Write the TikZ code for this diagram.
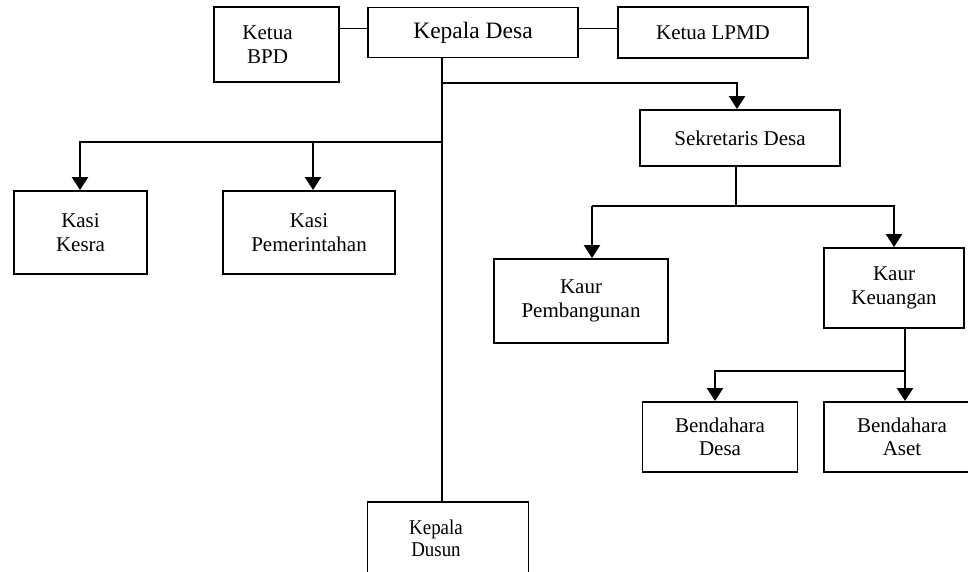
\documentclass[tikz,border=0pt]{standalone}
\usepackage{fontspec}
\usepackage{graphicx}
\setmainfont{Liberation Serif}
\usetikzlibrary{arrows.meta}
\newcommand{\narrow}[1]{\scalebox{0.9}[1]{#1}}
\tikzset{
  unit/.style={draw, line width=1.9pt, inner sep=0pt, align=center,
    font=\fontsize{21}{23.5}\selectfont},
  conn/.style={line width=2.3pt, line join=miter},
  link/.style={line width=1.6pt},
  arr/.style={-{Triangle[length=13pt,width=16pt]}}
}
\begin{document}
\begin{tikzpicture}[x=1pt,y=-1pt]
\useasboundingbox (0,0) rectangle (968,571);

% top row
\node[unit, minimum width=125pt, minimum height=75pt] (bpd) at (276.5,44.5)
  {Ketua\kern18pt\\BPD\kern18pt};
\node[unit, minimum width=210pt, minimum height=50pt,
      font=\fontsize{23.5}{26}\selectfont] (kades) at (473,32.5) {Kepala Desa};
\node[unit, minimum width=190pt, minimum height=51pt] (lpmd) at (713,32.5) {Ketua LPMD};

% secretary and sections
\node[unit, minimum width=200pt, minimum height=56pt] (sek) at (740,138) {Sekretaris Desa};
\node[unit, minimum width=133pt, minimum height=83pt] (kesra) at (80.5,232.5) {Kasi\\Kesra};
\node[unit, minimum width=172pt, minimum height=83pt] (kpem) at (309,232.5) {Kasi\\Pemerintahan};
\node[unit, minimum width=174pt, minimum height=84pt] (kpemb) at (581,301) {Kaur\\Pembangunan};
\node[unit, minimum width=140pt, minimum height=80pt] (kkeu) at (894,288) {Kaur\\Keuangan};
\node[unit, minimum width=155pt, minimum height=70pt] (bdesa) at (720,437) {Bendahara\\Desa};
\node[unit, minimum width=156pt, minimum height=70pt] (baset) at (902,437) {Bendahara\\Aset};
\node[unit, minimum width=161pt, minimum height=73pt,
      font=\fontsize{21}{21.7}\selectfont] (kdusun) at (448,538.5)
  {\narrow{Kepala}\kern24pt\\\narrow{Dusun}\kern24pt};

% junction levels
\coordinate (tr) at ([xshift=-31pt]kades.south);
\coordinate (yS) at (0,83);
\coordinate (yK) at (0,142);
\coordinate (yP) at (0,205.7);
\coordinate (yB) at (0,371);

% side links of the head
\draw[link] ([yshift=4pt]kades.west) -- ([yshift=4pt]kades.west -| bpd.east);
\draw[link] ([yshift=4pt]kades.east) -- ([yshift=4pt]kades.east -| lpmd.west);

% main trunk down to Kepala Dusun
\draw[conn] (tr) -- (tr |- kdusun.north);

% branch to Sekretaris Desa
\draw[conn,arr] (tr |- yS) -| ([xshift=-3pt]sek.north);

% branch to the Kasi
\draw[conn,arr] (tr |- yK) -| ([xshift=-0.5pt]kesra.north);
\draw[conn,arr] ([xshift=4pt]kpem.north |- yK) -- ([xshift=4pt]kpem.north);

% Sekretaris Desa to the Kaur
\draw[conn] ([xshift=-4pt]sek.south) -- ([xshift=-4pt]sek.south |- yP);
\draw[conn,arr] ([xshift=11pt]kpemb.north |- yP) -- ([xshift=11pt]kpemb.north);
\draw[conn,arr] ([xshift=11pt]kpemb.north |- yP) -| (kkeu.north);

% Kaur Keuangan to the Bendahara
\draw[conn,arr] ([xshift=11pt]kkeu.south) -- ([xshift=11pt]kkeu.south |- baset.north);
\draw[conn,arr] ([xshift=11pt]kkeu.south |- yB) -| ([xshift=-5pt]bdesa.north);
\end{tikzpicture}
\end{document}
